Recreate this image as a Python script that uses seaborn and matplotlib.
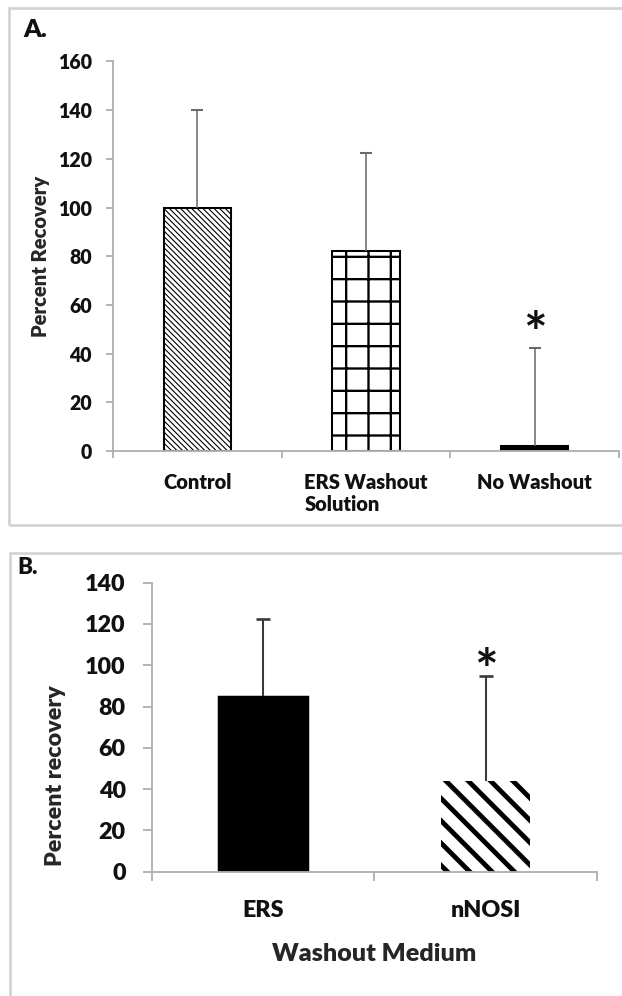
import numpy as np
import pandas as pd
import matplotlib
matplotlib.use("Agg")
import matplotlib.pyplot as plt
import seaborn as sns
from matplotlib.patches import Rectangle

# ---------------- data ----------------
a_categories = ["Control", "ERS Washout\nSolution", "No Washout"]
a_means = [100, 82, 2]
a_sd = [40, 40.5, 40.5]
a_sig = [False, False, True]
a_yticks = [0, 20, 40, 60, 80, 100, 120, 140, 160]
a_ylabel = "Percent Recovery"

b_categories = ["ERS", "nNOSI"]
b_means = [85, 44]
b_sd = [37.5, 51]
b_sig = [False, True]
b_yticks = [0, 20, 40, 60, 80, 100, 120, 140]
b_ylabel = "Percent recovery"
b_xlabel = "Washout Medium"

# ---------------- styles ----------------
a_hatch = ["\\" * 8, "+", ""]
a_face = ["white", "white", "black"]
a_edge_lw = [1.1, 1.1, 1.1]
a_hatch_lw = [0.6, 1.25, 1.0]

b_hatch = ["", "\\\\"]
b_face = ["black", "white"]
b_edge_lw = [0.8, 0.0]
b_hatch_lw = [1.0, 2.6]

DPI = 134
W, H = 622, 996
PX = 72.0 / DPI  # points per pixel
WT = "heavy"

sns.set_theme(style="white")
plt.rcParams["font.family"] = ["Lato", "DejaVu Sans"]
plt.rcParams["font.weight"] = "bold"
plt.rcParams["axes.labelweight"] = "bold"
plt.rcParams["text.color"] = "#111111"
plt.rcParams["xtick.color"] = "#111111"
plt.rcParams["ytick.color"] = "#111111"

fig = plt.figure(figsize=(W / DPI, H / DPI), dpi=DPI)
fig.patch.set_facecolor("white")

SPINE = "#b0b0b0"


def panel(ax, cats, means, sds, sig, yticks, hatches, faces, elws, hlws,
          tick_fs, cat_fs, ylabel, ylab_fs, ylab_xy, ytick_pad, xtick_pad,
          err_color, err_lw, capsize, star_fs, star_off, ticklen):
    df = pd.DataFrame({"cat": cats, "val": means})
    sns.barplot(data=df, x="cat", y="val", ax=ax, color="white", width=0.4,
                errorbar=None, saturation=1)
    for p, h, fc, elw, hlw in zip(ax.patches, hatches, faces, elws, hlws):
        p.set_facecolor(fc)
        p.set_edgecolor("black")
        p.set_linewidth(elw)
        p.set_hatch(h)
        if hasattr(p, "set_hatch_linewidth"):
            p.set_hatch_linewidth(hlw)
    n = len(cats)
    x = np.arange(n)
    eb = ax.errorbar(x, means, yerr=[np.zeros(n), sds], fmt="none",
                     ecolor=err_color, elinewidth=err_lw, capsize=capsize,
                     capthick=err_lw * 1.3, zorder=5)
    for cl in eb[1]:
        if np.allclose(cl.get_ydata(), means):
            cl.set_visible(False)
    for xi, m, s, g in zip(x, means, sds, sig):
        if g:
            ax.annotate("*", xy=(xi, m + s), xytext=(0, star_off),
                        textcoords="offset points", ha="center",
                        va="baseline", fontsize=star_fs, fontweight="bold",
                        color="#111111")
    ax.set_xlim(-0.5, n - 0.5)
    ax.set_ylim(yticks[0], yticks[-1])
    ax.set_yticks(yticks)
    ax.set_yticklabels([str(t) for t in yticks], fontsize=tick_fs,
                       fontweight=WT)
    ax.set_xticks(np.arange(n + 1) - 0.5)
    ax.set_xticklabels([])
    ax.set_xticks(x, minor=True)
    ax.set_xticklabels(cats, minor=True, fontsize=cat_fs, fontweight=WT)
    for t in ax.get_xticklabels(minor=True):
        t.set_multialignment("left")
    ax.tick_params(axis="x", which="major", bottom=True, length=ticklen,
                   width=1.0, color=SPINE, direction="out")
    ax.tick_params(axis="x", which="minor", bottom=True, length=0,
                   pad=xtick_pad)
    ax.tick_params(axis="y", which="major", left=True, length=ticklen,
                   width=1.0, color=SPINE, direction="out", pad=ytick_pad)
    for side in ["top", "right"]:
        ax.spines[side].set_visible(False)
    for side in ["left", "bottom"]:
        ax.spines[side].set_color(SPINE)
        ax.spines[side].set_linewidth(1.0)
    ax.set_xlabel("")
    ax.set_ylabel(ylabel, fontsize=ylab_fs, fontweight=WT)
    ax.yaxis.set_label_coords(*ylab_xy)
    ax.set_facecolor("none")


# Panel A axes
axA = fig.add_axes([113 / W, 1 - 451 / H, (619 - 113) / W, (451 - 61.4) / H])
panel(axA, a_categories, a_means, a_sd, a_sig, a_yticks, a_hatch, a_face,
      a_edge_lw, a_hatch_lw, tick_fs=10.5, cat_fs=10.8, ylabel=a_ylabel,
      ylab_fs=10.8, ylab_xy=(-0.1245, 0.5), ytick_pad=14 * PX,
      xtick_pad=22 * PX, err_color="#6a6a6a", err_lw=0.85, capsize=3.0,
      star_fs=30, star_off=-2.2, ticklen=7 * PX)

# Panel B axes
axB = fig.add_axes([151.7 / W, 1 - 871.7 / H, (597 - 151.7) / W,
                    (871.7 - 582.7) / H])
panel(axB, b_categories, b_means, b_sd, b_sig, b_yticks, b_hatch, b_face,
      b_edge_lw, b_hatch_lw, tick_fs=12.5, cat_fs=12.5, ylabel=b_ylabel,
      ylab_fs=12.5, ylab_xy=(-0.192, 0.331), ytick_pad=17 * PX,
      xtick_pad=28 * PX, err_color="#3a3a3a", err_lw=1.1, capsize=3.5,
      star_fs=30, star_off=-7, ticklen=9 * PX)
axB.set_xlabel(b_xlabel, fontsize=13.5, fontweight=WT)
axB.xaxis.set_label_coords(0.5, -0.247)

# panel frames
fig.add_artist(Rectangle((9 / W, 1 - 525 / H), 1.2, (525 - 8) / H,
                         transform=fig.transFigure, fill=False,
                         edgecolor="#d2d2d2", linewidth=2.6 * PX))
fig.add_artist(Rectangle((10 / W, -0.2), 1.2, 0.2 + (1 - 553 / H),
                         transform=fig.transFigure, fill=False,
                         edgecolor="#d2d2d2", linewidth=2.6 * PX))

fig.text(23 / W, 1 - 37 / H, "A.", ha="left", va="baseline", fontsize=13.5,
         fontweight=WT, color="#111111")
fig.text(17 / W, 1 - 574 / H, "B.", ha="left", va="baseline", fontsize=12,
         fontweight=WT, color="#111111")

fig.savefig("out.png", dpi=DPI, facecolor="white")
